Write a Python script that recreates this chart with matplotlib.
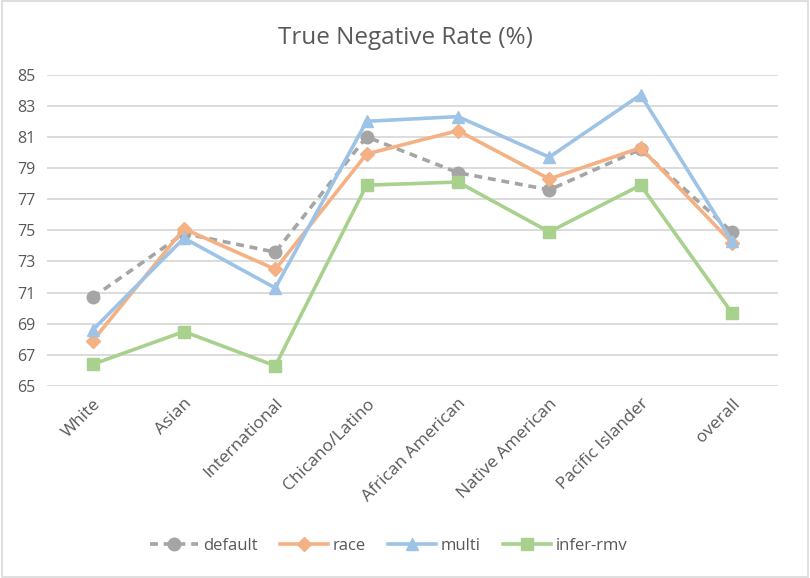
import matplotlib
matplotlib.use("Agg")
import matplotlib.pyplot as plt
from matplotlib.patches import Rectangle

categories = ["White", "Asian", "International", "Chicano/Latino", "African American",
              "Native American", "Pacific Islander", "overall"]
default = [70.7, 74.8, 73.6, 81.0, 78.7, 77.6, 80.2, 74.9]
race = [67.9, 75.1, 72.5, 79.9, 81.4, 78.3, 80.3, 74.2]
multi = [68.6, 74.5, 71.3, 82.0, 82.3, 79.7, 83.7, 74.3]
infer_rmv = [66.4, 68.5, 66.3, 77.9, 78.1, 74.9, 77.9, 69.7]
yticks = [65, 67, 69, 71, 73, 75, 77, 79, 81, 83, 85]

plt.rcParams['font.family'] = ['Open Sans', 'DejaVu Sans']
txt = '#595959'

fig = plt.figure(figsize=(8.1, 5.78), dpi=100)
ax = fig.add_axes([0.058, 0.332, 0.902, 0.539])
x = list(range(len(categories)))

ax.plot(x, default, color='#A5A5A5', lw=2.6, ls=(0, (2.2, 1.6)), marker='o', ms=9,
        mfc='#A5A5A5', mec='#A5A5A5', label='default', zorder=3)
ax.plot(x, race, color='#F4B183', lw=2.6, marker='D', ms=7,
        label='race', zorder=4)
ax.plot(x, multi, color='#9DC3E6', lw=2.6, marker='^', ms=9,
        label='multi', zorder=5)
ax.plot(x, infer_rmv, color='#A9D18E', lw=2.6, marker='s', ms=8,
        label='infer-rmv', zorder=3)

ax.set_xlim(-0.5, len(categories) - 0.5)
ax.set_ylim(65, 85)
ax.set_yticks(yticks)
ax.set_yticklabels([str(t) for t in yticks], color=txt, fontsize=11.5)
ax.set_xticks(x)
ax.set_xticklabels(categories, rotation=45, ha='right', rotation_mode='anchor',
                   color=txt, fontsize=12.5)
ax.tick_params(axis='y', length=0, pad=8)
ax.tick_params(axis='x', length=0, pad=7)
ax.grid(axis='y', color='#D9D9D9', lw=1.3)
ax.set_axisbelow(True)
for s in ax.spines.values():
    s.set_visible(False)

fig.text(0.5, 0.935, "True Negative Rate (%)", ha='center', va='center',
         fontsize=17.5, color=txt)

fig.legend(loc='center', bbox_to_anchor=(0.48, 0.055), ncol=4, frameon=False,
           fontsize=12, labelcolor=txt, handlelength=2.9, columnspacing=1.3,
           handletextpad=0.3)

fig.patches.append(Rectangle((0.002, 0.002), 0.996, 0.996, transform=fig.transFigure,
                             fill=False, edgecolor='#D9D9D9', lw=1.2))

fig.savefig('out.png', dpi=100, facecolor='white')
